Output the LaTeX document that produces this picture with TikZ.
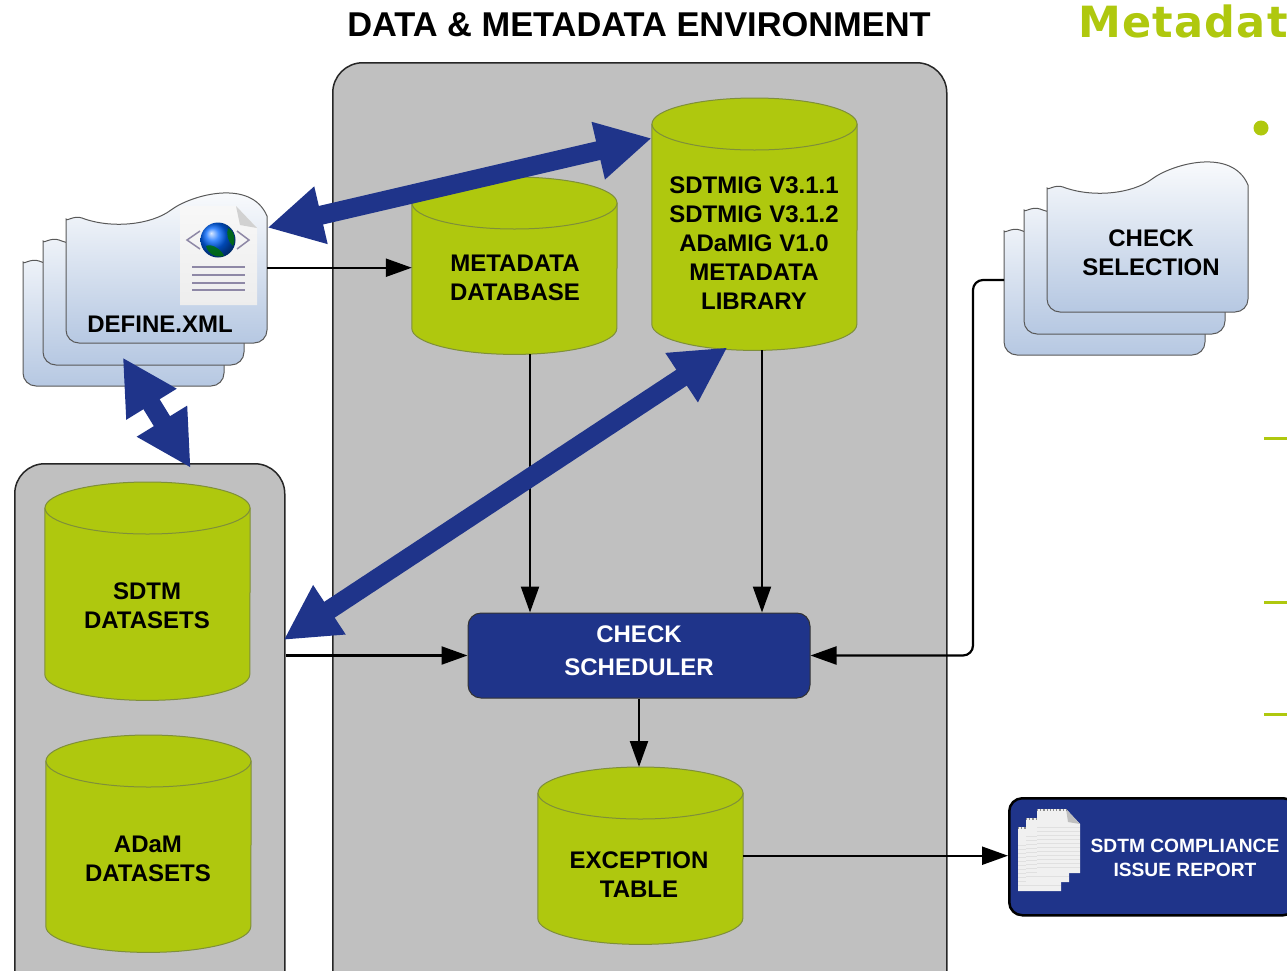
\documentclass[tikz,border=0pt]{standalone}
\usepackage{fontspec}
\setmainfont{Liberation Sans}
\newfontfamily\headfont[LetterSpace=3]{DejaVu Sans}
\usetikzlibrary{arrows.meta}

\definecolor{dbgreen}{HTML}{AFC80E}
\definecolor{dbedge}{HTML}{7F8F3A}
\definecolor{navy}{HTML}{1F348A}
\definecolor{panelgray}{HTML}{C0C0C0}
\definecolor{sheetblue}{HTML}{B6C8E2}
\definecolor{iconline}{HTML}{8E88A6}

\tikzset{
  panel/.style={draw=black!85,fill=panelgray,line width=1.5pt,rounded corners=30pt,inner sep=0pt},
  dbbox/.style={minimum width=205pt,inner sep=0pt,anchor=north},
  dbcan/.style={draw=dbedge,fill=dbgreen,line width=1pt},
  thinarrow/.style={draw=black,line width=2.2pt,-{Triangle[length=26pt,width=18pt]}},
  bigarrow/.style={draw=navy,line width=19pt,{Triangle[length=55pt,width=55pt]}-{Triangle[length=55pt,width=55pt]}},
  sheetbox/.style={minimum width=201pt,minimum height=151pt,inner sep=0pt},
  textlabel/.style={align=center,font=\fontsize{24}{29}\selectfont\bfseries},
  sheet/.pic={
    \draw[draw=black!65,line width=1pt,top color=white,bottom color=sheetblue]
      (0,40) .. controls (0,30) and (8,23) .. (16,26) .. controls (45,37) and (85,33) .. (105,18)
      .. controls (125,3) and (185,-14) .. (201,24)
      [rounded corners=13pt] -- (201,151) -- (0,151) -- cycle;
  },
  page/.pic={
    \fill[white!94!black] (0,0) -- (29,0) -- (43,15) -- (43,64) -- (0,64) -- cycle;
    \fill[black!25] (29,0) -- (43,15) -- (31,13) -- cycle;
    \draw[black!45,line width=1.2pt,dotted] (0,1) -- (29,1);
    \foreach \l in {18,22,...,60}
      \draw[black!12,line width=.5pt] (0,\l) -- (43,\l);
  }
}

% name, centre x, top y, height
\newcommand{\dbnode}[4]{
  \node[dbbox,minimum height=#4pt] (#1) at (#2,#3) {};
  \draw[dbcan] ([yshift=-26pt]#1.north west) -- ([yshift=26pt]#1.south west)
    arc[start angle=180,end angle=0,x radius=102.5,y radius=26]
    -- ([yshift=-26pt]#1.north east) -- cycle;
  \draw[dbcan] ([yshift=-26pt]#1.north) ellipse[x radius=102.5,y radius=26];
}

\begin{document}
\begin{tikzpicture}[x=1pt,y=-1pt]
\useasboundingbox (0,0) rectangle (1287,970);
\clip (0,0) rectangle (1287,970);
\fill[white] (0,0) rectangle (1287,970);

% heading and slide leftovers
\node[anchor=base,font=\fontsize{34.4}{34}\selectfont\bfseries] (title) at (639,36) {DATA \& METADATA ENVIRONMENT};
\node[anchor=base west,inner sep=0pt,text=dbgreen,font=\fontsize{43}{43}\selectfont\headfont\bfseries] (slidehead) at (1078,37) {Metadat};
\fill[dbgreen] (1261,128) circle (7.5);
\foreach \y in {438,602,714}
  \fill[dbgreen] (1264,\y-1.5) rectangle (1287,\y+1.5);

% panels
\node[panel,minimum width=614pt,minimum height=1000pt,anchor=north west] (envpanel) at (332,62) {};
\node[panel,minimum width=270pt,minimum height=600pt,anchor=north west] (datapanel) at (14,463) {};

% sheet stacks
\foreach \x/\y in {23/235,43/214,66/192}
  \pic at (\x,\y) {sheet};
\foreach \x/\y in {1004/204,1024/183,1047/161}
  \pic at (\x,\y) {sheet};
\node[sheetbox,anchor=north west] (define) at (66,192) {};
\node[sheetbox,anchor=north west] (checkback) at (1004,204) {};
\node[textlabel] (definelabel) at (160,324) {DEFINE.XML};
\node[textlabel] (checklabel) at (1151,252.5) {CHECK\\SELECTION};

% xml icon
\shade[top color=black!3,bottom color=black!7] (180,206) -- (236,206) -- (257,228) -- (257,305) -- (180,305) -- cycle;
\fill[black!18] (236,206) -- (257,228) -- (240,225) -- cycle;
\shade[ball color=blue!60!cyan] (218,240) circle (17.5);
\fill[green!45!black,opacity=.8] (206,246) .. controls (212,243) and (222,250) .. (224,256) .. controls (216,258) and (208,254) .. cycle;
\fill[green!45!black,opacity=.8] (228,228) .. controls (234,230) and (236,240) .. (233,246) .. controls (228,242) and (226,234) .. cycle;
\draw[iconline,line width=1.5pt] (200,231) -- (187,240) -- (200,249);
\draw[iconline,line width=1.5pt] (237,231) -- (249,240) -- (237,249);
\foreach \y in {267,275,283,290}
  \draw[iconline,line width=2pt] (192,\y) -- (245,\y);

% databases
\dbnode{library}{754.5}{98}{252}
\dbnode{metadb}{514.5}{177}{177}
\dbnode{sdtm}{147.5}{482}{218}
\dbnode{adam}{148.5}{735}{217}
\dbnode{exception}{640.5}{767}{177}
\node[textlabel] (librarylabel) at (754,243.5) {SDTMIG V3.1.1\\SDTMIG V3.1.2\\ADaMIG V1.0\\METADATA\\LIBRARY};
\node[textlabel] (metadblabel) at (515,277.5) {METADATA\\DATABASE};
\node[textlabel] (sdtmlabel) at (147,605.5) {SDTM\\DATASETS};
\node[textlabel] (adamlabel) at (148,858.5) {ADaM\\DATASETS};
\node[textlabel] (exceptionlabel) at (639,874.5) {EXCEPTION\\TABLE};

% scheduler and report
\node[draw=black!80,fill=navy,line width=1pt,rounded corners=13pt,minimum width=342pt,minimum height=85pt] (sched) at (639,655.5) {};
\node[text=white,align=center,font=\fontsize{24}{33}\selectfont\bfseries] (schedlabel) at (639,651) {CHECK\\SCHEDULER};
\node[draw=black,fill=navy,line width=2.5pt,rounded corners=13pt,minimum width=287pt,minimum height=117pt,
  anchor=north west] (report) at (1008,797) {};
\foreach \x/\y in {1018/827,1026/818,1037/809}
  \pic at (\x,\y) {page};
\node[text=white,align=center,font=\fontsize{19.2}{24}\selectfont\bfseries] (reportlabel) at (1185,858) {SDTM COMPLIANCE\\ISSUE REPORT};

% thin arrows
\draw[thinarrow] (define.east) -- (define.east -| metadb.west);
\draw[thinarrow] ([xshift=15.5pt]metadb.south) -- ([xshift=15.5pt]metadb.south |- sched.north);
\draw[thinarrow] ([xshift=7.5pt]library.south) -- ([xshift=7.5pt]library.south |- sched.north);
\draw[thinarrow] (datapanel.east |- sched.west) -- (sched.west);
\draw[thinarrow] (sched.south) -- (sched.south |- exception.north);
\draw[thinarrow] (exception.east) -- (exception.east -| report.west);
\coordinate (bend) at (973,280);
\draw[thinarrow,rounded corners=10pt] (checkback.west |- bend) -- (bend) -- (bend |- sched.east) -- (sched.east);

% big arrows
\draw[bigarrow] ([yshift=40pt]define.east) -- ([yshift=86pt]library.west);
\draw[bigarrow] ([xshift=-2pt]datapanel.east |- 0,640) -- ([xshift=-27pt,yshift=3pt]library.south);
\draw[bigarrow] ([xshift=-44pt,yshift=-14pt]define.south) -- ([xshift=41pt,yshift=-5pt]datapanel.north);
\end{tikzpicture}
\end{document}
